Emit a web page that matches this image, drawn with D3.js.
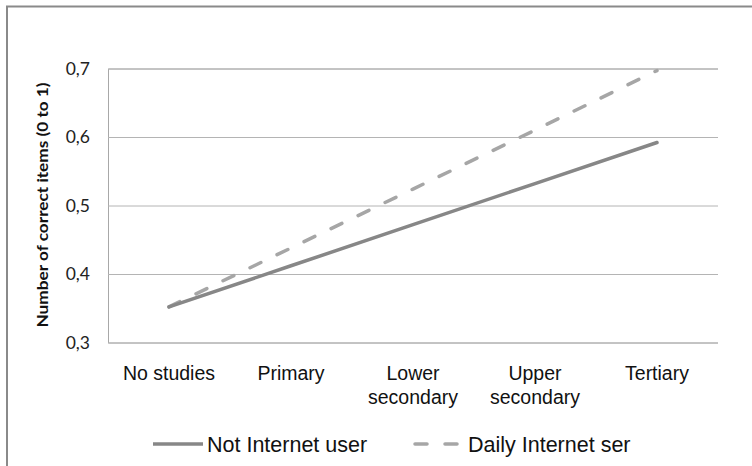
<!DOCTYPE html>
<html>
<head>
<meta charset="utf-8">
<script src="https://cdn.jsdelivr.net/npm/d3@7"></script>
<style>
  body { margin: 0; background: #fff; }
  svg { display: block; }
</style>
</head>
<body>
<svg width="752" height="466"></svg>
<script>
(function () {

	var categories = [['No studies'], ['Primary'], ['Lower', 'secondary'], ['Upper', 'secondary'], ['Tertiary']];
	var notUser = [0.352, 0.412, 0.472, 0.532, 0.592];
	var dailyUser = [0.352, 0.438, 0.524, 0.610, 0.697];
	var yTicks = [0.3, 0.4, 0.5, 0.6, 0.7];
	var seriesNames = ['Not Internet user', 'Daily Internet ser'];

	var svg = d3.select('svg');
	var left = 108, right = 718, top = 68.5, bottom = 342.5;

	// outer frame (left and top only visible)
	svg.append('path')
		.attr('d', 'M7,466V6.5H752')
		.attr('fill', 'none')
		.attr('stroke', '#8a8a8a')
		.attr('stroke-width', 2);

	var x = d3.scaleBand().domain(d3.range(categories.length)).range([left, right]);
	var y = d3.scaleLinear().domain([0.3, 0.7]).range([bottom, top]);

	// gridlines
	svg.append('g')
		.attr('transform', 'translate(' + left + ',0)')
		.call(d3.axisLeft(y).tickValues(yTicks).tickSize(-(right - left)).tickFormat(''))
		.call(function (g) {
			g.select('.domain').attr('stroke', '#a8a8a8');
			g.selectAll('.tick line').attr('stroke', '#b4b4b4');
		});

	// y tick labels
	svg.append('g')
		.selectAll('text')
		.data(yTicks)
		.enter().append('text')
		.attr('x', 90)
		.attr('y', function (d) { return y(d) + 6; })
		.attr('text-anchor', 'end')
		.attr('font-family', 'Lato, "Open Sans", sans-serif')
		.attr('font-size', 17.5)
		.attr('fill', '#222')
		.text(function (d) { return d3.format('.1f')(d).replace('.', ','); });

	// y title
	svg.append('text')
		.attr('transform', 'translate(48,205) rotate(-90)')
		.attr('text-anchor', 'middle')
		.attr('font-family', 'Lato, "Open Sans", sans-serif')
		.attr('font-weight', 'bold')
		.attr('font-size', 15)
		.attr('textLength', 245)
		.attr('lengthAdjust', 'spacingAndGlyphs')
		.attr('fill', '#111')
		.text('Number of correct items (0 to 1)');

	// x labels
	var xl = svg.append('g')
		.selectAll('text')
		.data(categories)
		.enter().append('text')
		.attr('text-anchor', 'middle')
		.attr('font-family', '"Liberation Sans", Arial, sans-serif')
		.attr('font-size', 19.5)
		.attr('fill', '#111')
		.attr('x', function (d, i) { return x(i) + x.bandwidth() / 2; })
		.attr('y', 380);
	xl.selectAll('tspan')
		.data(function (d) { return d; })
		.enter().append('tspan')
		.attr('x', function () { return d3.select(this.parentNode).attr('x'); })
		.attr('dy', function (d, i) { return i === 0 ? 0 : 24; })
		.text(function (d) { return d; });

	var line = d3.line()
		.x(function (d, i) { return x(i) + x.bandwidth() / 2; })
		.y(function (d) { return y(d); });

	svg.append('path')
		.datum(dailyUser)
		.attr('d', line)
		.attr('fill', 'none')
		.attr('stroke', '#a6a6a6')
		.attr('stroke-width', 3.5)
		.attr('stroke-linecap', 'round')
		.attr('stroke-dasharray', '12,18');

	svg.append('path')
		.datum(notUser)
		.attr('d', line)
		.attr('fill', 'none')
		.attr('stroke', '#878787')
		.attr('stroke-width', 3.5)
		.attr('stroke-linecap', 'round');

	// legend
	var legend = [
		{name: seriesNames[0], x1: 153, x2: 203, tx: 207, color: '#878787', dash: null},
		{name: seriesNames[1], x1: 415, x2: 458, tx: 468, color: '#a6a6a6', dash: '12,18'}
	];
	var lg = svg.append('g').selectAll('g').data(legend).enter().append('g');
	lg.append('line')
		.attr('x1', function (d) { return d.x1; })
		.attr('x2', function (d) { return d.x2; })
		.attr('y1', 444).attr('y2', 444)
		.attr('stroke', function (d) { return d.color; })
		.attr('stroke-width', 3.5)
		.attr('stroke-dasharray', function (d) { return d.dash; })
		.attr('stroke-linecap', function (d) { return d.dash ? 'round' : 'butt'; });
	lg.append('text')
		.attr('x', function (d) { return d.tx; })
		.attr('y', 452)
		.attr('font-family', '"Liberation Sans", Arial, sans-serif')
		.attr('font-size', 21.5)
		.attr('fill', '#111')
		.text(function (d) { return d.name; });

})();
</script>
</body>
</html>
